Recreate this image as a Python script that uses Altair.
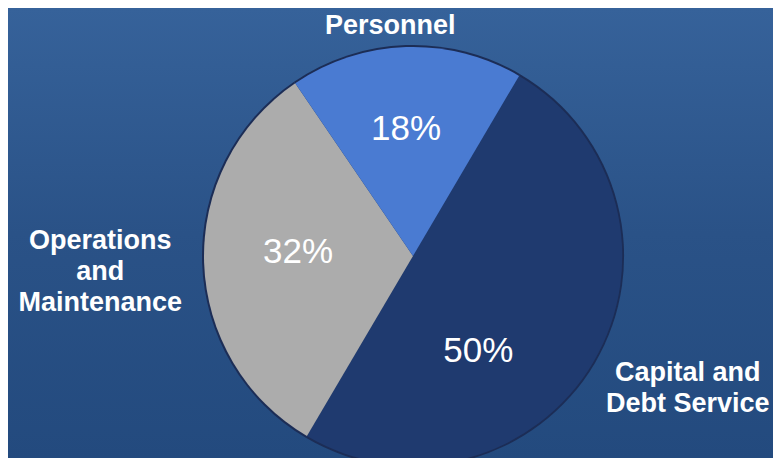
import math
import altair as alt
import pandas as pd

# ---- data ----
categories = ["Capital and Debt Service", "Operations and Maintenance", "Personnel"]
shares = [50, 32, 18]
pct_labels = ["50%", "32%", "18%"]
name_labels = ["Capital and\nDebt Service", "Operations\nand\nMaintenance", "Personnel"]
slice_colors = ["#1f3a6f", "#acacac", "#4a7bd2"]
order_idx = [0, 1, 2]

df = pd.DataFrame({
    "category": categories,
    "share": shares,
    "pct": pct_labels,
    "name": name_labels,
    "idx": order_idx,
})

W, H = 765, 450
CX, CY = 405, 248
R = 209
start = math.radians(30.5)
theta_scale = alt.Scale(domain=[0, 100], range=[start, start + 2 * math.pi])
color_scale = alt.Scale(domain=categories, range=slice_colors)

base = alt.Chart(df)

bg = base.mark_rect(
    color=alt.LinearGradient(
        gradient="linear",
        stops=[alt.GradientStop(color="#36629a", offset=0),
               alt.GradientStop(color="#2a5287", offset=0.5),
               alt.GradientStop(color="#234a7e", offset=1)],
        x1=0, x2=0, y1=0, y2=1,
    )
).encode(x=alt.value(0), x2=alt.value(W), y=alt.value(0), y2=alt.value(H))

rim = base.mark_arc(outerRadius=R + 2, color="#1c2d56").encode(
    theta=alt.Theta("share:Q", stack=True, scale=theta_scale),
    order=alt.Order("idx:Q"),
    x=alt.value(CX), y=alt.value(CY),
)

pie = base.mark_arc(outerRadius=R).encode(
    theta=alt.Theta("share:Q", stack=True, scale=theta_scale),
    color=alt.Color("category:N", scale=color_scale, legend=None),
    order=alt.Order("idx:Q"),
    x=alt.value(CX), y=alt.value(CY),
)

mid = base.transform_window(
    cum="sum(share)", sort=[alt.SortField("idx")], frame=[None, 0]
).transform_calculate(mid="datum.cum - datum.share / 2")


def pct_layer(cat, radius, dx, dy):
    return mid.transform_filter(alt.datum.category == cat).mark_text(
        radius=radius, dx=dx, dy=dy, font="Liberation Sans", fontSize=35,
        color="white", align="center", baseline="middle",
    ).encode(
        theta=alt.Theta("mid:Q", stack=False, scale=theta_scale),
        text="pct:N", x=alt.value(CX), y=alt.value(CY),
    )


def name_layer(cat, radius, dx, dy):
    return mid.transform_filter(alt.datum.category == cat).mark_text(
        radius=radius, dx=dx, dy=dy, font="Liberation Sans", fontSize=27,
        fontWeight="bold", color="white", align="center", baseline="middle",
        lineBreak="\n", lineHeight=31,
    ).encode(
        theta=alt.Theta("mid:Q", stack=False, scale=theta_scale),
        text="name:N", x=alt.value(CX), y=alt.value(CY),
    )


layers = [
    bg, rim, pie,
    pct_layer("Personnel", 120, -3, -7),
    pct_layer("Operations and Maintenance", 120, 5, -8),
    pct_layer("Capital and Debt Service", 120, -38, 34),
    name_layer("Personnel", 237, -15, 7),
    name_layer("Operations and Maintenance", 313, 0, -25),
    name_layer("Capital and Debt Service", 313, 5, -42),
]

chart = alt.layer(*layers).properties(
    width=W, height=H,
    autosize=alt.AutoSizeParams(type="none"),
    padding=0,
).configure_view(stroke=None).configure(background="#2a5287")

chart.save("out.html", embed_options={"renderer": "svg", "actions": False})
